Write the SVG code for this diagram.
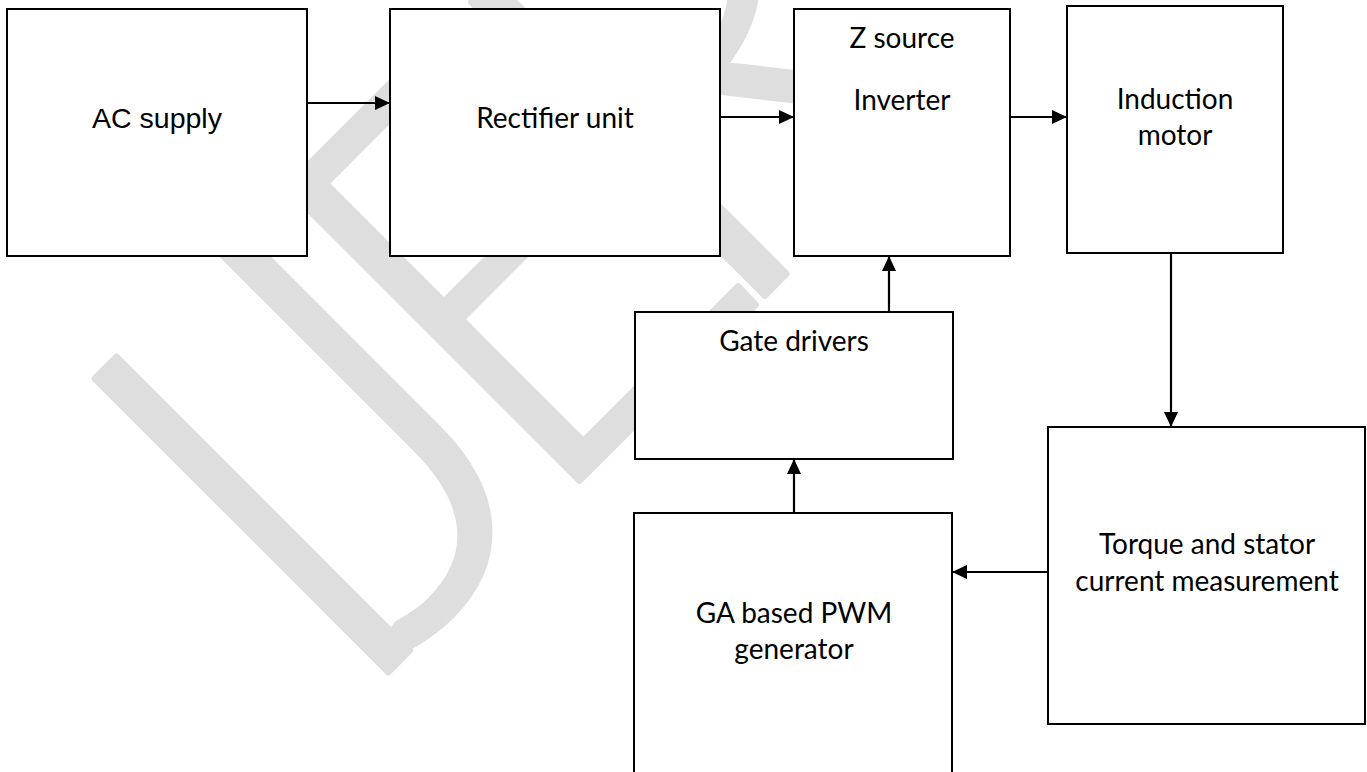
<svg xmlns="http://www.w3.org/2000/svg" width="1367" height="772" viewBox="0 0 1367 772">
<defs>
<style>
.box{fill:#ffffff;stroke:#000000;stroke-width:2}
.lbl{font-family:Lato,"Open Sans",sans-serif;font-size:28px;fill:#000000;text-anchor:middle}
.lbl-ar{font-family:"Liberation Sans",Arial,sans-serif;font-size:28.5px;fill:#000000;text-anchor:middle}
.wire{fill:none;stroke:#000000;stroke-width:2.2;marker-end:url(#arrow)}
.wm{font-family:Lato,"Open Sans",sans-serif;font-weight:300;font-size:586px;fill:#dedede;stroke:#dedede;stroke-width:7;stroke-linejoin:round}
</style>
<marker id="arrow" markerUnits="userSpaceOnUse" markerWidth="15" markerHeight="14" refX="15" refY="7" orient="auto">
<path d="M0,0 L15,7 L0,14 Z" fill="#000000"/>
</marker>
</defs>
<rect width="1367" height="772" fill="#ffffff"/>
<g id="watermark">
<text class="wm" transform="translate(345,715) rotate(-45)" dx="0 -70 -55 -78 0">IJERT</text>
</g>
<g id="connectors">
<line class="wire" x1="307" y1="103" x2="390" y2="103"/>
<line class="wire" x1="720" y1="117" x2="794" y2="117"/>
<line class="wire" x1="1010" y1="117" x2="1067" y2="117"/>
<line class="wire" x1="1171" y1="253" x2="1171" y2="427"/>
<line class="wire" x1="1048" y1="572" x2="952" y2="572"/>
<line class="wire" x1="794" y1="513" x2="794" y2="459"/>
<line class="wire" x1="889" y1="312" x2="889" y2="256"/>
</g>
<g id="ac-supply">
<rect class="box" x="7" y="9" width="300" height="247"/>
<text class="lbl-ar" x="157" y="128">AC supply</text>
</g>
<g id="rectifier">
<rect class="box" x="390" y="9" width="330" height="247"/>
<text class="lbl" x="555" y="128">Rectifier unit</text>
</g>
<g id="z-source">
<rect class="box" x="794" y="9" width="216" height="247"/>
<text class="lbl" x="902" y="48">Z source</text>
<text class="lbl" x="902" y="110">Inverter</text>
</g>
<g id="induction-motor">
<rect class="box" x="1067" y="6" width="216" height="247"/>
<text class="lbl" x="1175" y="109">Induction</text>
<text class="lbl" x="1175" y="145">motor</text>
</g>
<g id="gate-drivers">
<rect class="box" x="635" y="312" width="318" height="147"/>
<text class="lbl" x="794" y="351">Gate drivers</text>
</g>
<g id="ga-pwm">
<rect class="box" x="634" y="513" width="318" height="280"/>
<text class="lbl" x="794" y="623">GA based PWM</text>
<text class="lbl" x="794" y="659">generator</text>
</g>
<g id="torque-measurement">
<rect class="box" x="1048" y="427" width="317" height="297"/>
<text class="lbl" x="1207" y="554">Torque and stator</text>
<text class="lbl" x="1207" y="591">current measurement</text>
</g>
</svg>
